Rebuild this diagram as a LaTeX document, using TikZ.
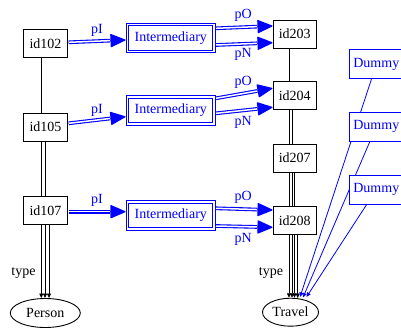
\documentclass[tikz,border=0pt]{standalone}
\usepackage{fontspec}
\setmainfont{Liberation Serif}
\usetikzlibrary{shapes.geometric,arrows.meta,backgrounds,calc}

\begin{document}
\begin{tikzpicture}[x=1pt,y=-1pt,
  font=\fontsize{14}{16}\selectfont,
  idbox/.style={rectangle, draw=black, line width=0.9pt, fill=white,
    minimum width=43.5pt, minimum height=28pt, inner sep=0pt},
  midbox/.style={rectangle, draw=blue, text=blue, double=white,
    double distance=1.8pt, line width=0.9pt, fill=white,
    minimum width=86.5pt, minimum height=27pt, inner sep=0pt, outer sep=2pt},
  dumbox/.style={rectangle, draw=blue, text=blue, line width=0.9pt, fill=white,
    minimum width=53pt, minimum height=29pt, inner sep=0pt},
  classnode/.style={ellipse, draw=black, line width=0.9pt, fill=white, inner sep=0pt},
  plink/.style={draw=blue, line width=1.2pt,
    -{Triangle[length=16pt,width=13.5pt,round]},
    postaction={draw=blue, double=white, double distance=1.5pt,
      line width=1.1pt, -, shorten >=15.5pt}},
  typeline/.style={draw=black, line width=0.8pt, -{Triangle[length=4.5pt,width=4pt]}},
  dumline/.style={draw=blue, line width=0.8pt, -{Triangle[length=4.5pt,width=4pt]}},
  elabel/.style={text=blue, inner sep=0pt},
  tlabel/.style={text=black, inner sep=0pt}]

\useasboundingbox (0,0) rectangle (401,329);

% left column
\node[idbox] (id102) at (45.5,43.7) {id102};
\node[idbox] (id105) at (45.5,127) {id105};
\node[idbox] (id107) at (45.5,210.5) {id107};
\node[classnode, minimum width=70pt, minimum height=29pt] (Person) at (45.3,313) {Person};

% intermediary nodes
\node[midbox] (I1) at (170.75,38) {Intermediary};
\node[midbox] (I2) at (170.75,110.5) {Intermediary};
\node[midbox] (I3) at (170.75,215.5) {Intermediary};

% right column
\node[idbox] (id203) at (294.7,34.2) {id203};
\node[idbox] (id204) at (294.7,95.5) {id204};
\node[idbox] (id207) at (294.7,158) {id207};
\node[idbox] (id208) at (294.7,220.5) {id208};
\node[classnode, minimum width=56pt, minimum height=28pt] (Travel) at (290.5,312.2) {Travel};

% dummy nodes
\node[dumbox] (D1) at (376.3,64.3) {Dummy};
\node[dumbox] (D2) at (376.3,126.5) {Dummy};
\node[dumbox] (D3) at (376.3,189.7) {Dummy};

% arrow ends of the dummy edges
\coordinate (t1) at ($(Travel.north)+(9.5,-0.8)$);
\coordinate (t2) at ($(Travel.north)+(12.5,-0.3)$);
\coordinate (t3) at ($(Travel.north)+(16,-0.8)$);

% edge labels
\node[elabel] (lpI1) at (97,30) {pI};
\node[elabel] (lpI2) at (97,110) {pI};
\node[elabel] (lpI3) at (97,200) {pI};
\node[elabel] (lpO1) at (243.3,15.3) {pO};
\node[elabel] (lpN1) at (243.3,54) {pN};
\node[elabel] (lpO2) at (243.3,82.5) {pO};
\node[elabel] (lpN2) at (243.3,122.8) {pN};
\node[elabel] (lpO3) at (243.3,197.8) {pO};
\node[elabel] (lpN3) at (243.3,239.5) {pN};
\node[tlabel] (ltype1) at (23.5,273.5) {type};
\node[tlabel] (ltype2) at (271,273) {type};

\begin{scope}[on background layer]
  % type edges, left
  \draw[typeline] ($(id102.south)+(-4.2,0)$) -- ($(Person.north)+(-4,0)$);
  \draw[typeline] ($(id105.south)+(-0.5,0)$) -- ($(Person.north)+(-0.3,0)$);
  \draw[typeline] ($(id107.south)+(3.5,0)$) -- ($(Person.north)+(3.7,0)$);
  % type edges, right
  \draw[typeline] ($(id203.south)+(-5.7,0)$) -- ($(Travel.north)+(-1.5,0)$);
  \draw[typeline] ($(id204.south)+(-2.7,0)$) -- ($(Travel.north)+(1.5,0)$);
  \draw[typeline] ($(id207.south)+(-0.2,0)$) -- ($(Travel.north)+(4,0)$);
  \draw[typeline] ($(id208.south)+(3,0)$) -- ($(Travel.north)+(7.2,0.3)$);
  % dummy edges
  \draw[dumline] (D1) -- (t1);
  \draw[dumline] (D2) -- (t2);
  \draw[dumline] (D3) -- (t3);
\end{scope}

% pI edges
\draw[plink] ($(id102.east)+(1,-1.4)$) -- ($(I1.west)+(0,2)$);
\draw[plink] ($(id105.east)+(1,-3.7)$) -- ($(I2.west)+(0,6.2)$);
\draw[plink] ($(id107.east)+(1,1.2)$) -- ($(I3.west)+(0,-3.8)$);
% pO and pN edges
\draw[plink] ($(I1.east)+(0,-9.7)$) -- ($(id203.west)+(0,-8.2)$);
\draw[plink] ($(I1.east)+(0,7)$) -- ($(id203.west)+(0,8.5)$);
\draw[plink] ($(I2.east)+(0,-12.2)$) -- ($(id204.west)+(0,-7.2)$);
\draw[plink] ($(I2.east)+(0,2.8)$) -- ($(id204.west)+(0,11.8)$);
\draw[plink] ($(I3.east)+(0,-7.2)$) -- ($(id208.west)+(0,-10.5)$);
\draw[plink] ($(I3.east)+(0,10.5)$) -- ($(id208.west)+(0,6.8)$);
\end{tikzpicture}
\end{document}
